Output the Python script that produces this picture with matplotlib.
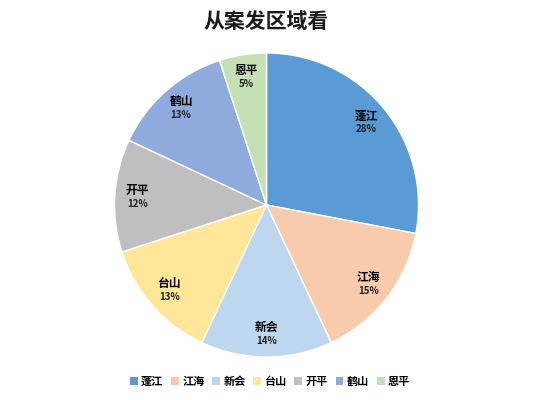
import numpy as np
import matplotlib
matplotlib.use("Agg")
import matplotlib.pyplot as plt
from matplotlib.patches import Patch

plt.rcParams['font.family'] = ['Noto Sans CJK SC', 'DejaVu Sans']

# ------------------------------------------------------------------
# data
# ------------------------------------------------------------------
regions = ["蓬江", "江海", "新会", "台山", "开平", "鹤山", "恩平"]
shares = [28, 15, 14, 13, 12, 13, 5]
colors = ["#5B9BD5", "#F8CBAD", "#BDD7EE", "#FFE699", "#BFBFBF", "#8FAADC", "#C5E0B4"]
title = "从案发区域看"

W, H = 534, 400
fig = plt.figure(figsize=(W / 100, H / 100), dpi=100)

cx, cy, R = 266.5, 205, 152
ax = fig.add_axes([(cx - R) / W, (H - cy - R) / H, 2 * R / W, 2 * R / H])

wedges, _ = ax.pie(shares, colors=colors, startangle=90, counterclock=False,
                   radius=1.0, wedgeprops=dict(edgecolor="white", linewidth=1.0))
ax.set_xlim(-1, 1); ax.set_ylim(-1, 1)
ax.set_aspect("equal")
ax.axis("off")

for w, name, val in zip(wedges, regions, shares):
    mid = np.deg2rad((w.theta1 + w.theta2) / 2)
    x, y = 0.85 * np.cos(mid), 0.85 * np.sin(mid)
    ax.text(x, y + 0.045, name, ha="center", va="center",
            fontsize=8.5, fontweight="bold", color="black")
    ax.text(x, y - 0.045, f"{val}%", ha="center", va="center",
            fontsize=7, fontweight="bold", color="#222222")

fig.text(cx / W, 1 - 22 / H, title, ha="center", va="center",
         fontsize=15, fontweight="bold", color="#1a1a1a")

handles = [Patch(facecolor=c, edgecolor="none") for c in colors]
leg = fig.legend(handles, regions, loc="center", bbox_to_anchor=(270 / W, 1 - 381 / H),
                 ncol=len(regions), frameon=False, fontsize=8,
                 handlelength=0.7, handleheight=0.7, handletextpad=0.3,
                 columnspacing=0.7)
for t in leg.get_texts():
    t.set_fontweight("bold")

fig.savefig("out.png", dpi=100)
